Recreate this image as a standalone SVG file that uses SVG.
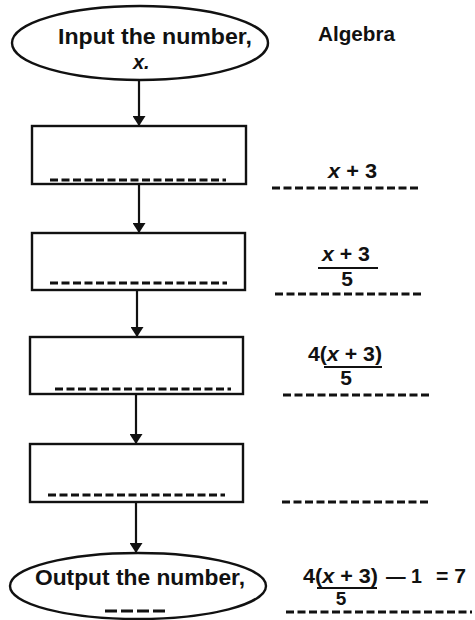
<svg xmlns="http://www.w3.org/2000/svg" width="475" height="620" viewBox="0 0 475 620">
<defs>
<style>
.shape{fill:#fff;stroke:#111;stroke-width:2.4}
.blank{stroke:#111;stroke-width:3;stroke-dasharray:8 3.5;fill:none}
.bar{stroke:#111;stroke-width:2.2}
.conn{stroke:#111;stroke-width:2.2;fill:none}
text{font-family:"Liberation Sans",Arial,sans-serif;font-weight:bold;fill:#111}
.lbl{font-size:22px}
.math{font-size:21px}
.it{font-style:italic}
</style>
<marker id="arr" viewBox="0 0 10 13" refX="10" refY="6.5" markerWidth="11" markerHeight="13" markerUnits="userSpaceOnUse" orient="auto">
<path d="M0,0 L10,6.5 L0,13 Z" fill="#111"/>
</marker>
</defs>
<rect width="475" height="620" fill="#fff"/>
<g id="connectors">
<line class="conn" x1="139" y1="80" x2="139" y2="126" marker-end="url(#arr)"/>
<line class="conn" x1="139" y1="184" x2="139" y2="233" marker-end="url(#arr)"/>
<line class="conn" x1="137" y1="290" x2="137" y2="337" marker-end="url(#arr)"/>
<line class="conn" x1="136" y1="394" x2="136" y2="444" marker-end="url(#arr)"/>
<line class="conn" x1="136" y1="502" x2="136" y2="553" marker-end="url(#arr)"/>
</g>
<g id="input">
<ellipse class="shape" cx="140" cy="43" rx="128" ry="37"/>
<text class="lbl" x="58" y="44" textLength="194" lengthAdjust="spacingAndGlyphs">Input the number,</text>
<text class="it" x="133" y="69" font-size="20">x.</text>
</g>
<g id="title">
<text x="318" y="41" font-size="20" textLength="77" lengthAdjust="spacingAndGlyphs">Algebra</text>
</g>
<g id="box1">
<rect class="shape" x="32" y="126" width="214" height="58"/>
<line class="blank" x1="50" y1="180" x2="226" y2="180"/>
</g>
<g id="box2">
<rect class="shape" x="32" y="233" width="213" height="57"/>
<line class="blank" x1="50" y1="283" x2="227" y2="283"/>
</g>
<g id="box3">
<rect class="shape" x="30" y="337" width="213" height="57"/>
<line class="blank" x1="55" y1="389" x2="231" y2="389"/>
</g>
<g id="box4">
<rect class="shape" x="30" y="444" width="213" height="58"/>
<line class="blank" x1="48" y1="495" x2="225" y2="495"/>
</g>
<g id="output">
<ellipse class="shape" cx="138" cy="586" rx="128" ry="33"/>
<text class="lbl" x="35" y="585" textLength="210" lengthAdjust="spacingAndGlyphs">Output the number,</text>
<line class="blank" x1="105" y1="611" x2="166" y2="611" style="stroke-dasharray:12 4"/>
</g>
<g id="alg1">
<text class="math" x="328" y="178" textLength="49" lengthAdjust="spacingAndGlyphs"><tspan class="it">x</tspan> + 3</text>
<line class="blank" x1="272" y1="188" x2="418" y2="188"/>
</g>
<g id="alg2">
<text class="math" x="322" y="261" textLength="48" lengthAdjust="spacingAndGlyphs"><tspan class="it">x</tspan> + 3</text>
<line class="bar" x1="318" y1="268" x2="378" y2="268"/>
<text class="math" x="347" y="286" text-anchor="middle">5</text>
<line class="blank" x1="275" y1="294" x2="423" y2="294"/>
</g>
<g id="alg3">
<text class="math" x="308" y="361" textLength="74" lengthAdjust="spacingAndGlyphs">4(<tspan class="it">x</tspan> + 3)</text>
<line class="bar" x1="324" y1="367" x2="382" y2="367"/>
<text class="math" x="346" y="385" text-anchor="middle">5</text>
<line class="blank" x1="283" y1="395" x2="430" y2="395"/>
</g>
<g id="alg4">
<line class="blank" x1="282" y1="502" x2="428" y2="502"/>
</g>
<g id="alg5">
<text class="math" x="303" y="583" textLength="75" lengthAdjust="spacingAndGlyphs">4(<tspan class="it">x</tspan> + 3)</text>
<line class="bar" x1="317" y1="588" x2="377" y2="588"/>
<text x="341" y="605" font-size="19" text-anchor="middle">5</text>
<text class="math" x="386" y="583" textLength="36" lengthAdjust="spacingAndGlyphs">— 1</text>
<text class="math" x="436" y="583" textLength="30" lengthAdjust="spacingAndGlyphs">= 7</text>
<line class="blank" x1="286" y1="612" x2="472" y2="612"/>
</g>
</svg>
